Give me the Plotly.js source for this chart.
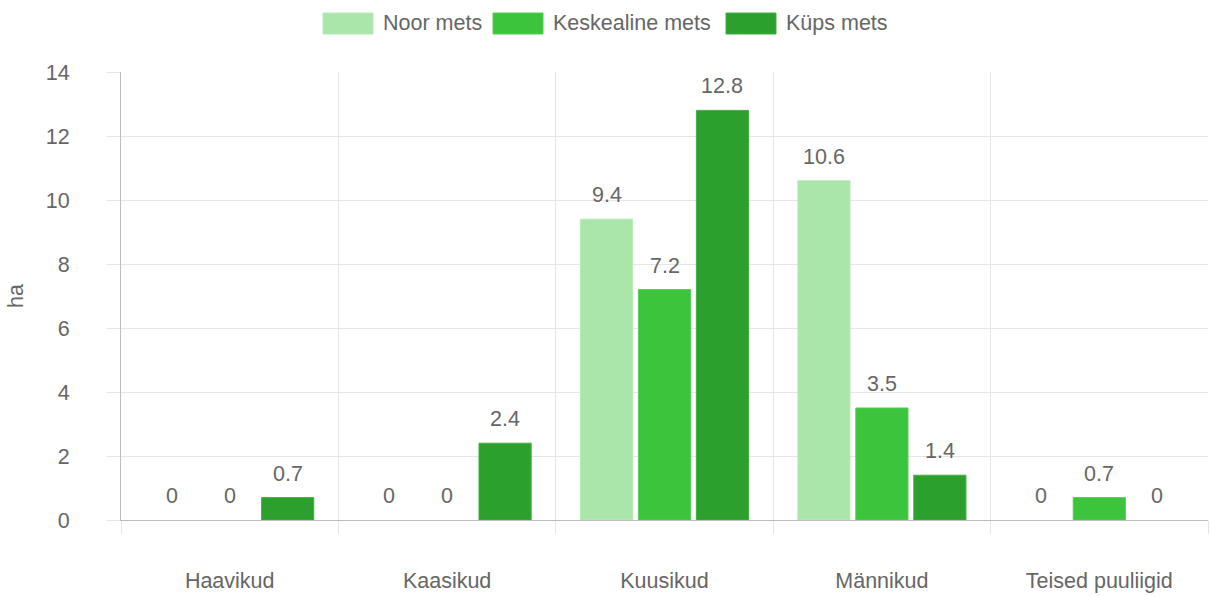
<!DOCTYPE html>
<html>
<head>
<meta charset="utf-8">
<script src="https://cdn.plot.ly/plotly-3.0.1.min.js"></script>
<style>html,body{margin:0;padding:0;background:#fff;}#chart{width:1210px;height:596px;}</style>
</head>
<body>
<div id="chart"></div>
<script>
const categories = ["Haavikud", "Kaasikud", "Kuusikud", "Männikud", "Teised puuliigid"];
const seriesNames = ["Noor mets", "Keskealine mets", "Küps mets"];
const noorMets = [0, 0, 9.4, 10.6, 0];
const keskealineMets = [0, 0, 7.2, 3.5, 0.7];
const kupsMets = [0.7, 2.4, 12.8, 1.4, 0];
const colors = ["#aae5aa", "#3cc43c", "#2ca02c"];
const borders = ["#b8eab8", "#55cc55", "#45ad45"];
const yTicks = [0, 2, 4, 6, 8, 10, 12, 14];

const allSeries = [noorMets, keskealineMets, kupsMets];
const font = "Liberation Sans, Arial, sans-serif";
const gray = "#666666";
const fs = 21.5;

const traces = allSeries.map((vals, j) => ({
  type: "bar",
  name: seriesNames[j],
  x: categories,
  y: vals,
  marker: {color: colors[j], line: {color: borders[j], width: vals.map(v => v ? 1 : 0)}},
  hoverinfo: "none",
  showlegend: false
}));

const annotations = [];
const slot = 0.8 / 3;
allSeries.forEach((vals, j) => {
  vals.forEach((v, i) => {
    annotations.push({
      x: i + (j - 1) * slot, y: v, xref: "x", yref: "y",
      text: String(v), showarrow: false, yshift: 24, yanchor: "middle",
      font: {family: font, size: fs, color: gray}
    });
  });
});

// custom legend (paper coords)
const shapes = [];
const legendBoxes = [[323, 373], [493, 543], [726, 776]];
const plotL = 121, plotW = 1087, plotB = 520, plotH = 448;
const px = p => (p - plotL) / plotW;
const py = p => (plotB - p) / plotH;
seriesNames.forEach((n, j) => {
  const [a, b] = legendBoxes[j];
  shapes.push({type: "rect", xref: "paper", yref: "paper",
    x0: px(a), x1: px(b), y0: py(34), y1: py(13),
    fillcolor: colors[j], line: {color: borders[j], width: 1}});
  annotations.push({xref: "paper", yref: "paper", x: px(b + 8), y: py(23),
    xanchor: "left", yanchor: "middle", showarrow: false, text: n,
    font: {family: font, size: fs, color: gray}});
});

const layout = {
  width: 1210, height: 596,
  margin: {l: 121, r: 2, t: 72, b: 76},
  paper_bgcolor: "#ffffff", plot_bgcolor: "#ffffff",
  font: {family: font, size: fs, color: gray},
  barmode: "group", bargap: 0.2, bargroupgap: 0.1,
  showlegend: false,
  xaxis: {
    type: "category", tickson: "boundaries",
    showgrid: true, gridcolor: "#e5e5e5", gridwidth: 1,
    ticks: "outside", ticklen: 13, tickcolor: "#e5e5e5",
    showline: true, linecolor: "#bdbdbd", linewidth: 1,
    ticklabelstandoff: 41,
    tickfont: {family: font, size: fs, color: gray},
    fixedrange: true
  },
  yaxis: {
    range: [0, 14], tickvals: yTicks, ticktext: yTicks.map(String),
    showgrid: true, gridcolor: "#e5e5e5", gridwidth: 1,
    ticks: "outside", ticklen: 13, tickcolor: "#e5e5e5",
    showline: true, linecolor: "#bdbdbd", linewidth: 1,
    zeroline: false, ticklabelstandoff: 33,
    tickfont: {family: font, size: fs, color: gray},
    title: {text: "ha", font: {family: font, size: fs, color: gray}, standoff: 16},
    fixedrange: true
  },
  annotations: annotations,
  shapes: shapes
};

Plotly.newPlot("chart", traces, layout, {displayModeBar: false, staticPlot: true});
</script>
</body>
</html>
